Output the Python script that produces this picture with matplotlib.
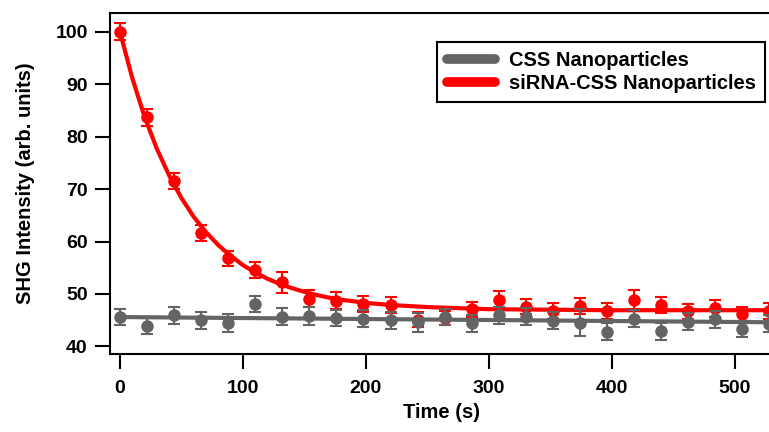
import matplotlib
matplotlib.use("Agg")
from matplotlib import pyplot as plt
from matplotlib.lines import Line2D

# sample times (s)
time_s = [0, 22, 44, 66, 88, 110, 132, 154, 176, 198, 220, 242, 264,
          286, 308, 330, 352, 374, 396, 418, 440, 462, 484, 506, 528]

# siRNA-CSS nanoparticles
red_vals = [100.0, 83.7, 71.5, 61.6, 56.8, 54.6, 52.2, 49.1, 48.7, 48.1, 47.9, 45.1, 45.4,
            47.1, 48.9, 47.6, 46.7, 47.7, 46.8, 48.9, 47.9, 46.7, 47.3, 46.2, 46.8]
red_err = [1.6, 1.6, 1.5, 1.5, 1.4, 1.5, 2.0, 1.6, 1.6, 1.5, 1.6, 1.4, 1.4,
           1.4, 1.6, 1.5, 1.5, 1.6, 1.5, 1.8, 1.6, 1.4, 1.6, 1.3, 1.5]

# CSS nanoparticles
gray_vals = [45.6, 43.9, 45.9, 45.0, 44.5, 48.1, 45.7, 45.8, 45.4, 45.3, 45.0, 44.6, 45.6,
             44.4, 45.9, 45.7, 44.9, 44.5, 42.8, 45.3, 42.9, 44.7, 45.2, 43.3, 44.3]
gray_err = [1.6, 1.6, 1.6, 1.6, 1.7, 1.6, 1.6, 1.7, 1.6, 1.6, 1.6, 1.8, 1.6,
            1.6, 1.6, 1.6, 1.6, 2.6, 1.6, 1.6, 1.6, 1.6, 1.6, 1.6, 1.6]

# fit curves
red_fit_t = [0, 10, 20, 30, 40, 50, 60, 70, 80, 90, 100, 110, 120, 130, 140, 150,
             160, 170, 180, 200, 220, 250, 300, 350, 400, 531]
red_fit_v = [100.0, 91.2, 83.8, 77.7, 72.6, 68.3, 64.7, 61.8, 59.3, 57.3, 55.5, 54.1,
             52.9, 51.9, 51.1, 50.4, 49.8, 49.3, 48.9, 48.3, 47.9, 47.5, 47.1, 47.0, 46.9, 46.9]
gray_fit_t = [0, 531]
gray_fit_v = [45.6, 44.6]

RED = "#ff0000"
GRAY = "#646464"

plt.rcParams["font.family"] = ["Liberation Sans", "DejaVu Sans"]
plt.rcParams["font.weight"] = "bold"

fig = plt.figure(figsize=(7.69, 4.32), dpi=100)
ax = fig.add_axes([110 / 769, 1 - 354 / 432, 663 / 769, 341 / 432])

ax.plot(red_fit_t, red_fit_v, color=RED, lw=3.0, zorder=2)
ax.errorbar(time_s, red_vals, yerr=red_err, fmt="o", color=RED, ms=8,
            elinewidth=1.5, capsize=4.5, capthick=1.5, zorder=3)
ax.plot(gray_fit_t, gray_fit_v, color=GRAY, lw=3.0, zorder=4)
ax.errorbar(time_s, gray_vals, yerr=gray_err, fmt="o", color=GRAY, ms=8,
            elinewidth=1.5, capsize=4.5, capthick=1.5, zorder=5)

ax.set_xlim(-8.1, 531)
ax.set_ylim(38.55, 103.6)
ax.set_xticks(range(0, 501, 100))
ax.set_yticks(range(40, 101, 10))
ax.tick_params(direction="out", length=11, width=1.5, labelsize=14)
ax.tick_params(axis="y", pad=5)
ax.tick_params(axis="x", pad=8)
for s in ax.spines.values():
    s.set_linewidth(1.5)
ax.spines["right"].set_visible(False)

ax.set_xlabel("Time (s)", fontsize=14.5, fontweight="bold", labelpad=4)
ax.set_ylabel("SHG Intensity (arb. units)", fontsize=14.5, fontweight="bold", labelpad=15)

handles = [Line2D([], [], color=GRAY, lw=7, solid_capstyle="round"),
           Line2D([], [], color=RED, lw=7, solid_capstyle="round")]
leg = ax.legend(handles, ["CSS Nanoparticles", "siRNA-CSS Nanoparticles"],
                loc="upper right", bbox_to_anchor=(765 / 769, 1 - 42 / 432),
                bbox_transform=fig.transFigure, fancybox=False, framealpha=1,
                edgecolor="black", fontsize=14.5, handlelength=2.4, handletextpad=0.7,
                labelspacing=0.2, borderpad=0.45, borderaxespad=0)
leg.get_frame().set_linewidth(1.5)

fig.savefig("out.png", dpi=100)
